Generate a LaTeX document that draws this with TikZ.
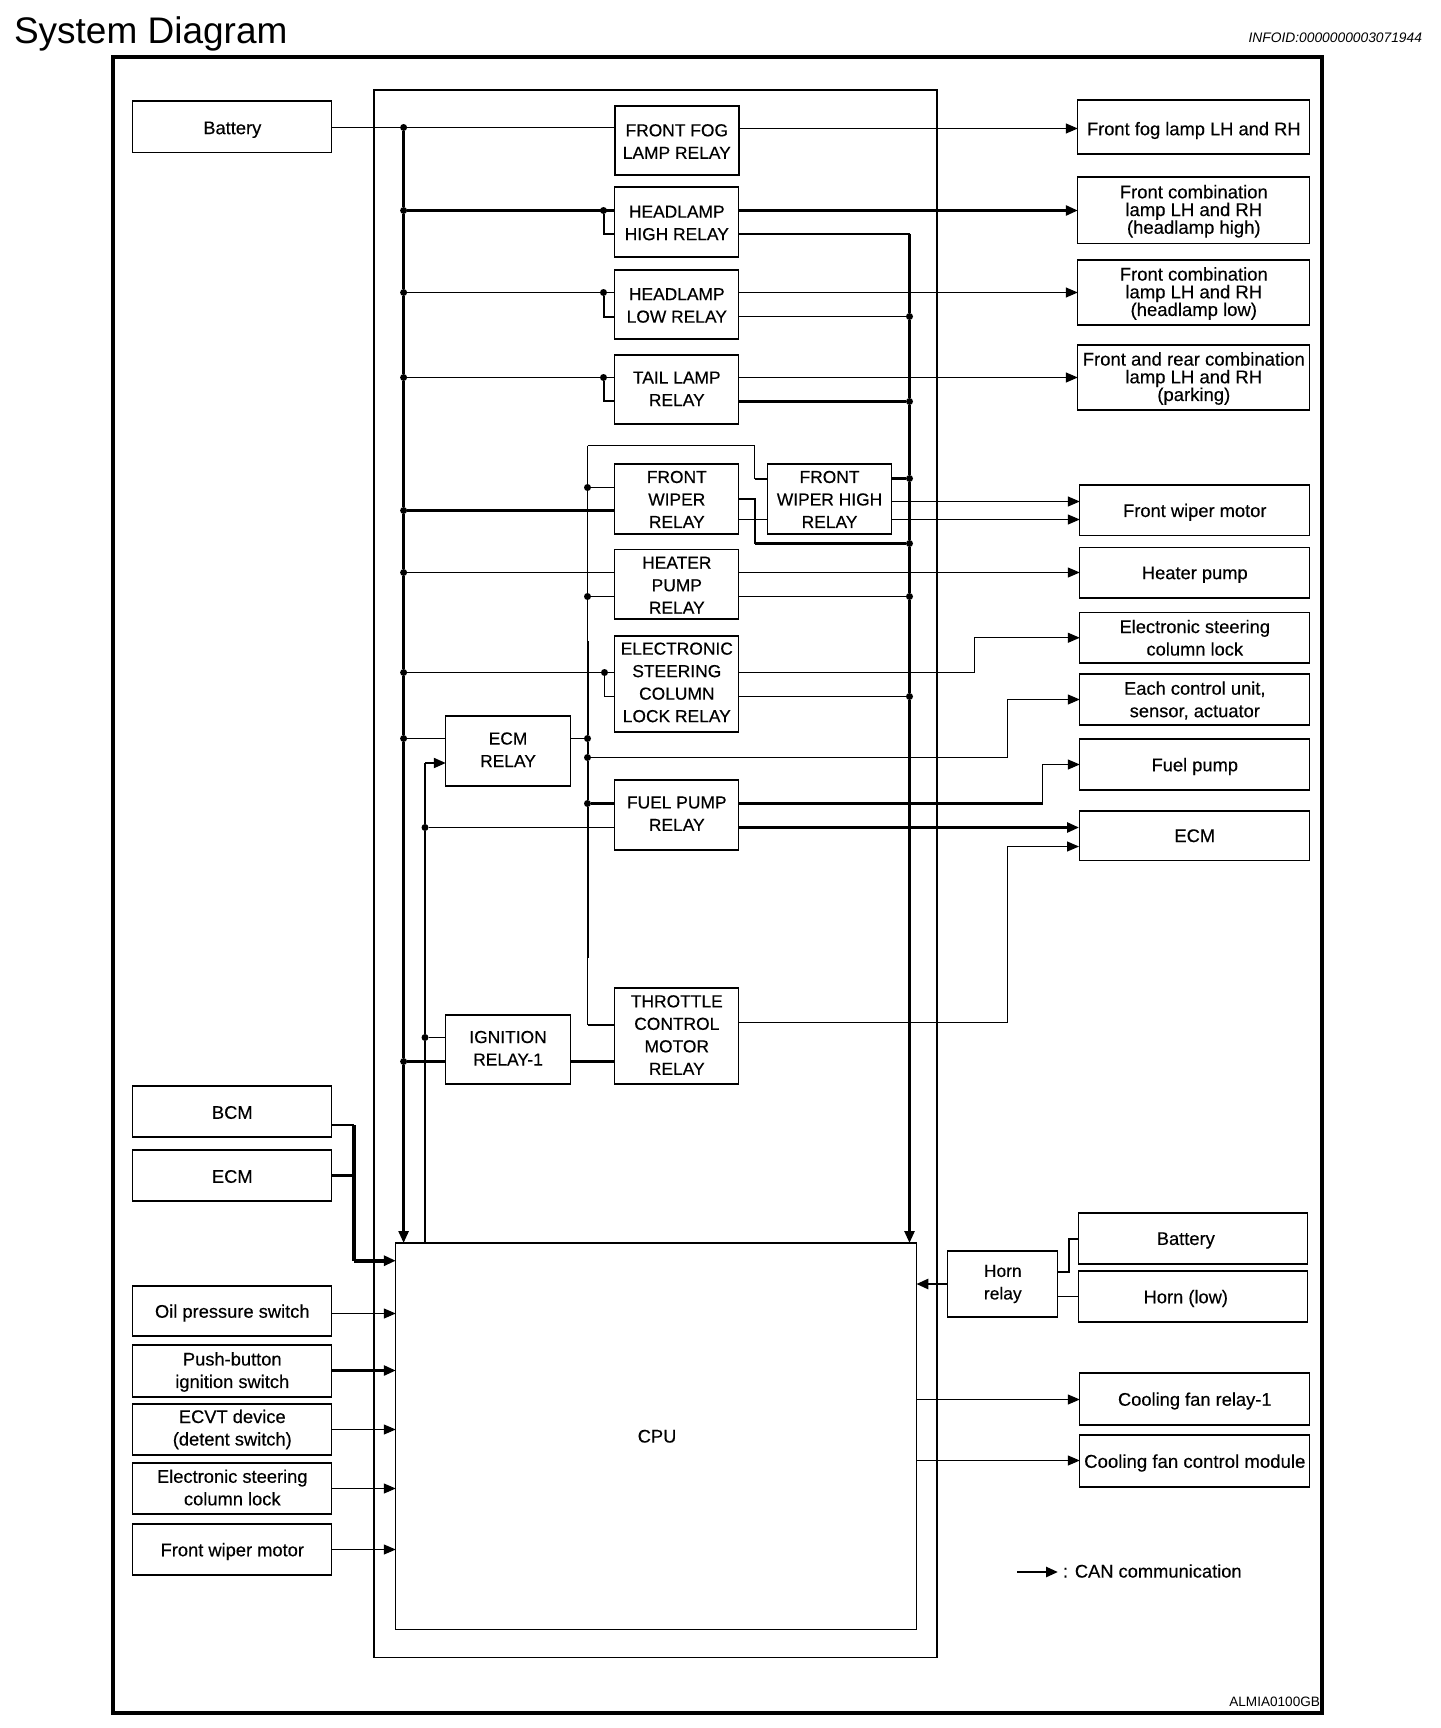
\documentclass[tikz,border=0pt]{standalone}
\usepackage{fontspec}
\setmainfont{Liberation Sans}
\newfontfamily\inkfont{Liberation Sans}[FakeBold=0.35]
\usetikzlibrary{arrows.meta}
\def\tadj{-2pt}
\tikzset{
  boxnode/.style={draw=black,line width=1.3pt,inner sep=0pt,outer sep=0pt},
  boxtext/.style={inner sep=0pt,outer sep=0pt,align=center,font=\inkfont\fontsize{18.3}{22.5}\selectfont},
  tight/.style={font=\inkfont\fontsize{18.5}{17.7}\selectfont},
  relay/.style={font=\inkfont\fontsize{17.4}{22.5}\selectfont},
  heavy/.style={line width=2.2pt},
  jdot/.style={circle,fill=black,inner sep=0pt,minimum size=7pt,outer sep=0pt},
  wire/.style={line width=1.15pt,draw=black},
  wiremid/.style={line width=2pt,draw=black},
  wirethick/.style={line width=2.6pt,draw=black},
  canwire/.style={line width=4pt,draw=black},
  tip/.style={-{Triangle[length=12pt,width=10pt]}},
  lbl/.style={inner sep=0pt,outer sep=0pt,font=\inkfont\fontsize{18.3}{22.5}\selectfont}
}
\newcommand{\mybox}[7][]{\node[boxnode,minimum width={(#5-#3)*1pt},minimum height={(#6-#4)*1pt},#1] (#2) at ({(#3+#5)/2+0.8},{(#4+#6)/2}) {};\node[boxtext,yshift=\tadj,#1] (#2t) at (#2) {#7};}
\begin{document}
\begin{tikzpicture}[x=1pt,y=-1pt]
\useasboundingbox (0,0) rectangle (1440,1728);
\node[lbl,anchor=west,font=\fontsize{37}{40}\selectfont] (title) at (14,34) {System Diagram};
\node[lbl,anchor=east,font=\fontsize{13.8}{16}\itshape] (info) at (1422,38) {INFOID:0000000003071944};
\node[boxnode,line width=4pt,minimum width=1209pt,minimum height=1656pt] (frame) at (717.5,885) {};
\node[boxnode,minimum width=563pt,minimum height=1567.5pt] (inner) at (655.5,873.7) {};
\node[lbl,anchor=east,font=\fontsize{13.6}{16}\selectfont] (code) at (1320,1702) {ALMIA0100GB};
% left boxes
\def\tadj{-3pt}
\mybox{batt}{132}{101}{331}{152.5}{Battery}
\def\tadj{-1pt}
\mybox{bcm}{132}{1086}{331}{1137}{BCM}
\mybox{ecml}{132}{1150}{331}{1201}{ECM}
\def\tadj{-2pt}
\mybox{oil}{132}{1286}{331}{1336}{Oil pressure switch}
\def\tadj{-1pt}
\mybox{push}{132}{1345}{331}{1397}{Push-button\\ignition switch}
\def\tadj{0pt}
\mybox{ecvt}{132}{1404}{331}{1455}{ECVT device\\(detent switch)}
\def\tadj{1pt}
\mybox{escl}{132}{1463}{331}{1514}{Electronic steering\\column lock}
\def\tadj{-2pt}
\mybox{fwm}{132}{1524}{331}{1575}{Front wiper motor}
% relays
\def\tadj{-1pt}
\mybox[heavy,relay]{fog}{614}{106}{738}{175}{FRONT FOG\\LAMP RELAY}
\mybox[relay]{high}{614}{187}{738}{257}{HEADLAMP\\HIGH RELAY}
\mybox[relay]{low}{614}{270}{738}{339}{HEADLAMP\\LOW RELAY}
\def\tadj{0.7pt}
\mybox[relay]{tail}{614}{355}{738}{424}{TAIL LAMP\\RELAY}
\def\tadj{-0.4pt}
\mybox[relay]{wiper}{614}{464}{738}{534}{FRONT\\WIPER\\RELAY}
\mybox[relay]{wiperh}{767}{464}{890.5}{534}{FRONT\\WIPER HIGH\\RELAY}
\def\tadj{-1pt}
\mybox[relay]{heater}{614}{549.5}{738}{619}{HEATER\\PUMP\\RELAY}
\def\tadj{1.3pt}
\mybox[relay]{ecmr}{445}{716}{569.5}{786}{ECM\\RELAY}
\mybox[relay]{fuel}{614}{780}{738}{850}{FUEL PUMP\\RELAY}
\mybox[relay]{ign}{445}{1015}{569.5}{1084}{IGNITION\\RELAY-1}
\def\tadj{1.6pt}
\mybox[relay]{steer}{614}{636}{738}{732}{ELECTRONIC\\STEERING\\COLUMN\\LOCK RELAY}
\def\tadj{1pt}
\mybox[relay]{throttle}{614}{988}{738}{1084}{THROTTLE\\CONTROL\\MOTOR\\RELAY}
\def\tadj{0pt}
\mybox{cpu}{395}{1243}{915.5}{1629.5}{\hspace*{2pt}CPU}
% right boxes
\def\tadj{-3.5pt}
\mybox{rfog}{1077}{100}{1309}{154}{Front fog lamp LH and RH}
\def\tadj{-1pt}
\mybox[tight]{rhigh}{1077}{177}{1309}{243.5}{Front combination\\lamp LH and RH\\(headlamp high)}
\mybox[tight]{rlow}{1077}{260}{1309}{325}{Front combination\\lamp LH and RH\\(headlamp low)}
\mybox[tight]{rpark}{1077}{345}{1309}{410}{Front and rear combination\\lamp LH and RH\\(parking)}
\def\tadj{-2pt}
\mybox{rwiper}{1079}{485}{1309}{535.5}{Front wiper motor}
\mybox{rheat}{1079}{547.5}{1309}{598}{Heater pump}
\def\tadj{0pt}
\mybox{rsteer}{1079}{612.5}{1309}{663}{Electronic steering\\column lock}
\def\tadj{-1pt}
\mybox{rctrl}{1079}{674}{1309}{725}{Each control unit,\\sensor, actuator}
\def\tadj{-2pt}
\mybox{rfuel}{1079}{739}{1309}{790}{Fuel pump}
\def\tadj{0pt}
\mybox{recm}{1079}{811}{1309}{860.5}{ECM}
\mybox[relay]{horn}{947}{1251}{1057}{1317}{Horn\\relay}
\def\tadj{-2pt}
\mybox{rbatt}{1078}{1213}{1307}{1264}{\hspace*{-15pt}Battery}
\mybox{rhorn}{1078}{1271}{1307}{1322}{\hspace*{-15pt}Horn (low)}
\mybox{rfan}{1079}{1373}{1309}{1425}{Cooling fan relay-1}
\mybox[font=\inkfont\fontsize{18.6}{22.5}\selectfont]{rfanm}{1079}{1435}{1309}{1487}{Cooling fan control module}
% junctions: main bus
\node[jdot] (b1) at (403.6,127.5) {};
\node[jdot] (b2) at (403.6,210.5) {};
\node[jdot] (b3) at (403.6,292.5) {};
\node[jdot] (b4) at (403.6,377.5) {};
\node[jdot] (b5) at (403.6,510.5) {};
\node[jdot] (b6) at (403.6,572.5) {};
\node[jdot] (b7) at (403.6,672.5) {};
\node[jdot] (b8) at (403.6,738.5) {};
\node[jdot] (b9) at (403.6,1061.5) {};
% relay-side junctions
\node[jdot] (h1) at (603.5,210.5) {};
\node[jdot] (l1) at (603.5,292.5) {};
\node[jdot] (t1) at (603.5,377.5) {};
\node[jdot] (e1) at (604.5,672.5) {};
% second bus
\node[jdot] (s1) at (425,827.5) {};
\node[jdot] (s2) at (425,1037.5) {};
% x=587 bus
\node[jdot] (m1) at (587.5,487.5) {};
\node[jdot] (m2) at (587.5,596.5) {};
\node[jdot] (m3) at (587.5,738.5) {};
\node[jdot] (m4) at (587.5,757.5) {};
\node[jdot] (m5) at (587.5,803.5) {};
% right bus
\node[jdot] (r1) at (909.5,316.5) {};
\node[jdot] (r2) at (909.5,401.5) {};
\node[jdot] (r3) at (909.5,478.5) {};
\node[jdot] (r4) at (909.5,543.5) {};
\node[jdot] (r5) at (909.5,596.5) {};
\node[jdot] (r6) at (909.5,696.5) {};
% corner coordinates
\coordinate (rtop) at (909.5,234);
\coordinate (mtop) at (587.5,445.5);
\coordinate (mcorner) at (754.5,445.5);
\coordinate (mbot) at (587.5,1025);
\coordinate (mthick) at (587.5,641);
\coordinate (mthin) at (587.5,958);
\coordinate (stop) at (425,763);
\coordinate (wj) at (754.5,498.7);
\coordinate (wk) at (754.5,543.5);
\coordinate (wh1) at (767.5,479);
\coordinate (wh2) at (891.5,501.5);
\coordinate (wh3) at (767.5,519.5);
\coordinate (st1) at (974.5,672.5);
\coordinate (ct1) at (1007.5,757.5);
\coordinate (fu1) at (1042.5,803.5);
\coordinate (th1) at (1007.5,1022.5);
\coordinate (th2) at (1079,846.5);
\coordinate (fu2) at (1079,827.5);
\coordinate (cb) at (354,1125);
\coordinate (ce) at (354,1175.5);
\coordinate (cj) at (354,1260.7);
\coordinate (hb1) at (1069,1271.5);
\coordinate (hb2) at (1069,1238.5);
\coordinate (hl) at (1057,1296.5);
\coordinate (hc) at (947,1284);
\coordinate (hpin) at (614.8,234);
\coordinate (lpin) at (614.8,316.5);
\coordinate (tpin) at (614.8,401);
\coordinate (spin) at (614.8,696.5);
\coordinate (lg) at (1017,1572);
\coordinate (lgend) at (1058,1572);
\coordinate (fogout) at (738.8,128.5);
\coordinate (fan1) at (916,1399.5);
\coordinate (fan2) at (916,1460.5);
\coordinate (in1) at (331.8,1313.5);
\coordinate (in2) at (331.8,1370.5);
\coordinate (in3) at (331.8,1429.5);
\coordinate (in4) at (331.8,1488.5);
\coordinate (in5) at (331.8,1549.5);
% buses
\draw[wirethick] (b1) -- (b2) -- (b3) -- (b4) -- (b5) -- (b6) -- (b7) -- (b8) -- (b9);
\draw[wirethick,tip] (b9) -- (cpu.north -| b9);
\draw[wirethick] (rtop) -- (r1) -- (r2) -- (r3) -- (r4) -- (r5) -- (r6);
\draw[wirethick,tip] (r6) -- (cpu.north -| r6);
\draw[wirethick] (stop) -- (s1) -- (s2) -- (cpu.north -| s2);
\draw[wire] (mtop) -- (m1) -- (m2) -- (mthick);
\draw[wiremid] (mthick) -- (m3) -- (m4) -- (m5) -- (mthin);
\draw[wire] (mthin) -- (mbot);
% battery and fog
\draw[wire] (batt.east |- b1) -- (b1);
\draw[wire] (b1) -- (fog.west |- b1);
\draw[wire,tip] (fogout) -- (rfog.west |- fogout);
% headlamp high
\draw[wirethick] (b2) -- (high.west |- b2);
\draw[wiremid] (h1) |- (hpin);
\draw[wirethick,tip] (high.east |- h1) -- (rhigh.west |- h1);
\draw[wirethick] (high.east |- hpin) -- (rtop);
% headlamp low
\draw[wire] (b3) -- (low.west |- b3);
\draw[wiremid] (l1) |- (lpin);
\draw[wire,tip] (low.east |- l1) -- (rlow.west |- l1);
\draw[wire] (low.east |- r1) -- (r1);
% tail
\draw[wire] (b4) -- (tail.west |- b4);
\draw[wiremid] (t1) |- (tpin);
\draw[wire,tip] (tail.east |- t1) -- (rpark.west |- t1);
\draw[wirethick] (tail.east |- r2) -- (r2);
% wiper
\draw[wire] (mtop) -- (mcorner) -- (mcorner |- wh1);
\draw[wiremid] (mcorner |- wh1) -- (wh1);
\draw[wire] (m1) -- (wiper.west |- m1);
\draw[wirethick] (b5) -- (wiper.west |- b5);
\draw[wiremid] (wiper.east |- wj) -- (wj) -- (wk);
\draw[wirethick] (wk) -- (r4);
\draw[wire] (wiper.east |- wh3) -- (wh3);
\draw[wirethick] (wiperh.east |- r3) -- (r3);
\draw[wire,tip] (wh2) -- (rwiper.west |- wh2);
\draw[wire,tip] (wiperh.east |- wh3) -- (rwiper.west |- wh3);
% heater
\draw[wire] (b6) -- (heater.west |- b6);
\draw[wire,tip] (heater.east |- b6) -- (rheat.west |- b6);
\draw[wire] (m2) -- (heater.west |- m2);
\draw[wire] (heater.east |- r5) -- (r5);
% steering
\draw[wire] (b7) -- (steer.west |- b7);
\draw[wire] (e1) |- (spin);
\draw[wire] (steer.east |- st1) -- (st1);
\draw[wire,tip] (st1) |- (rsteer.west);
\draw[wire] (steer.east |- r6) -- (r6);
% ECM relay
\draw[wire] (b8) -- (ecmr.west |- b8);
\draw[wire] (ecmr.east |- m3) -- (m3);
\draw[wiremid,tip] (stop) -- (ecmr.west |- stop);
\draw[wire] (m4) -- (ct1);
\draw[wire,tip] (ct1) |- (rctrl.west);
% fuel
\draw[wirethick] (m5) -- (fuel.west |- m5);
\draw[wire] (s1) -- (fuel.west |- s1);
\draw[wirethick] (fuel.east |- m5) -- (fu1);
\draw[wire,tip] (fu1) |- (rfuel.west);
\draw[wirethick,tip] (fuel.east |- s1) -- (fu2);
% ignition and throttle
\draw[wire] (s2) -- (ign.west |- s2);
\draw[wirethick] (b9) -- (ign.west |- b9);
\draw[wirethick] (ign.east |- b9) -- (throttle.west |- b9);
\draw[wiremid] (mbot) -- (throttle.west |- mbot);
\draw[wire] (throttle.east |- th1) -- (th1);
\draw[wire,tip] (th1) |- (th2);
% CAN
\draw[wirethick] (bcm.east |- cb) -- (cb);
\draw[wirethick] (ecml.east |- ce) -- (ce);
\draw[canwire] (cb) -- (ce) -- (cj);
\draw[canwire,tip] (cj) -- (cpu.west |- cj);
% left inputs
\draw[wire,tip] (in1) -- (cpu.west |- in1);
\draw[wirethick,tip] (in2) -- (cpu.west |- in2);
\draw[wire,tip] (in3) -- (cpu.west |- in3);
\draw[wire,tip] (in4) -- (cpu.west |- in4);
\draw[wire,tip] (in5) -- (cpu.west |- in5);
% horn
\draw[wirethick,tip] (hc) -- (cpu.east |- hc);
\draw[wiremid] (horn.east |- hb1) -- (hb1) -- (hb2) -- (rbatt.west |- hb2);
\draw[wire] (hl) -- (rhorn.west |- hl);
% fans
\draw[wire,tip] (fan1) -- (rfan.west |- fan1);
\draw[wire,tip] (fan2) -- (rfanm.west |- fan2);
% legend
\node[lbl,anchor=west] (legend) at (1063,1571) {: CAN communication};
\draw[wirethick,tip] (lg) -- (lgend);
\end{tikzpicture}
\end{document}
